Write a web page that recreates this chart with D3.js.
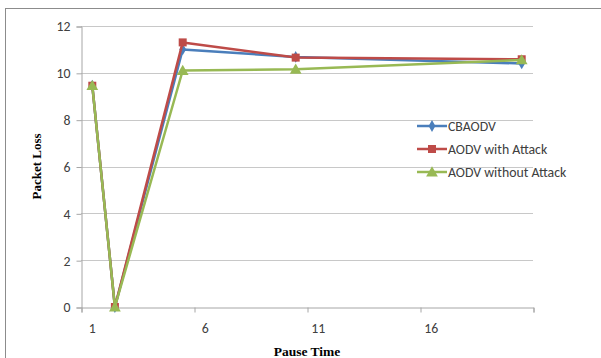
<!DOCTYPE html>
<html>
<head>
<meta charset="utf-8">
<script src="https://cdn.jsdelivr.net/npm/d3@7"></script>
<style>
  html, body { margin: 0; padding: 0; background: #fff; }
  svg { display: block; }
</style>
</head>
<body>
<svg id="chart" width="601" height="358"></svg>
<script>
// Packet loss against pause time for the three routing variants
const pauseTimes = [1, 2, 5, 10, 20];
const cbaodv = [9.45, 0, 11.0, 10.68, 10.4];
const aodvWithAttack = [9.45, 0, 11.3, 10.65, 10.58];
const aodvWithoutAttack = [9.45, 0, 10.1, 10.15, 10.55];
const seriesNames = ["CBAODV", "AODV with Attack", "AODV without Attack"];
const xTickLabels = [1, 6, 11, 16];
const yTicks = [0, 2, 4, 6, 8, 10, 12];

const colors = ["#4A7EBB", "#BE4B48", "#98B954"];
const symbols = [d3.symbolDiamond, d3.symbolSquare, d3.symbolTriangle];
const symbolSizes = [40, 64, 60];
const seriesValues = [cbaodv, aodvWithAttack, aodvWithoutAttack];

const svg = d3.select("#chart");

// chart frame (only top and left edges fall inside the view)
svg.append("rect")
  .attr("x", 5.5).attr("y", 8.5)
  .attr("width", 620).attr("height", 380)
  .attr("fill", "none").attr("stroke", "#8c8c8c").attr("stroke-width", 1);

const x = d3.scaleLinear().domain([0.5, 20.5]).range([81, 533]);
const y = d3.scaleLinear().domain([0, 12]).range([307, 26]);

const font = "Calibri, Carlito, 'Open Sans', 'Liberation Sans', Arial, sans-serif";
const labelSize = "13.8px";

// horizontal gridlines
svg.append("g")
  .selectAll("line")
  .data(yTicks.filter(d => d > 0))
  .join("line")
  .attr("x1", x.range()[0]).attr("x2", x.range()[1])
  .attr("y1", d => Math.round(y(d)) + 0.5).attr("y2", d => Math.round(y(d)) + 0.5)
  .attr("stroke", "#c8c8c8").attr("stroke-width", 1);

// y axis
const yAxis = svg.append("g")
  .attr("transform", `translate(${x.range()[0] + 0.5},0.5)`)
  .call(d3.axisLeft(y).tickValues(yTicks).tickSize(5).tickPadding(6).tickFormat(d3.format("d")));
yAxis.select(".domain").attr("stroke", "#a6a6a6");
yAxis.selectAll(".tick line").attr("stroke", "#a6a6a6");
yAxis.selectAll(".tick text")
  .attr("fill", "#404040").style("font-family", font).style("font-size", labelSize);

// x axis: tick marks on category boundaries, labels centred on categories
const xAxis = svg.append("g")
  .attr("transform", `translate(0.5,${y(0) + 0.5})`)
  .call(d3.axisBottom(x).tickValues([0.5, 5.5, 10.5, 15.5, 20.5]).tickSize(5).tickFormat(""));
xAxis.select(".domain").attr("stroke", "#a6a6a6");
xAxis.selectAll(".tick line").attr("stroke", "#a6a6a6");

svg.append("g")
  .selectAll("text")
  .data(xTickLabels)
  .join("text")
  .attr("x", d => x(d))
  .attr("y", y(0) + 26)
  .attr("text-anchor", "middle")
  .attr("fill", "#404040")
  .style("font-family", font).style("font-size", labelSize)
  .text(d => d);

// series lines and markers
const line = d3.line()
  .x((d, i) => x(pauseTimes[i]))
  .y(d => y(d));

seriesValues.forEach((vals, s) => {
  const g = svg.append("g");
  g.append("path")
    .datum(vals)
    .attr("d", line)
    .attr("fill", "none")
    .attr("stroke", colors[s])
    .attr("stroke-width", 2.5)
    .attr("stroke-linejoin", "round");
  g.selectAll("path.mark")
    .data(vals)
    .join("path")
    .attr("class", "mark")
    .attr("transform", (d, i) => `translate(${x(pauseTimes[i])},${y(d) + (s === 2 ? 1 : 0)})`)
    .attr("d", d3.symbol().type(symbols[s]).size(symbolSizes[s]))
    .attr("fill", colors[s]);
});

// legend
const legend = svg.append("g");
const legendY = [126, 149, 172];
seriesNames.forEach((name, s) => {
  const gy = legendY[s];
  legend.append("line")
    .attr("x1", 417).attr("x2", 447)
    .attr("y1", gy).attr("y2", gy)
    .attr("stroke", colors[s]).attr("stroke-width", 2.5);
  legend.append("path")
    .attr("transform", `translate(432,${gy + (s === 2 ? 1 : 0)})`)
    .attr("d", d3.symbol().type(symbols[s]).size(symbolSizes[s]))
    .attr("fill", colors[s]);
  legend.append("text")
    .attr("x", 448).attr("y", gy + 4.5)
    .attr("fill", "#404040")
    .style("font-family", font).style("font-size", labelSize)
    .text(name);
});

// axis titles
svg.append("text")
  .attr("transform", `translate(41,${y(6)}) rotate(-90)`)
  .attr("text-anchor", "middle")
  .style("font-family", "'Liberation Serif', 'Times New Roman', serif")
  .style("font-weight", "bold").style("font-size", "13px")
  .attr("fill", "#000")
  .text("Packet Loss");

svg.append("text")
  .attr("x", 307).attr("y", 356)
  .attr("text-anchor", "middle")
  .style("font-family", "'Liberation Serif', 'Times New Roman', serif")
  .style("font-weight", "bold").style("font-size", "13.5px")
  .attr("fill", "#000")
  .text("Pause Time");
</script>
</body>
</html>
